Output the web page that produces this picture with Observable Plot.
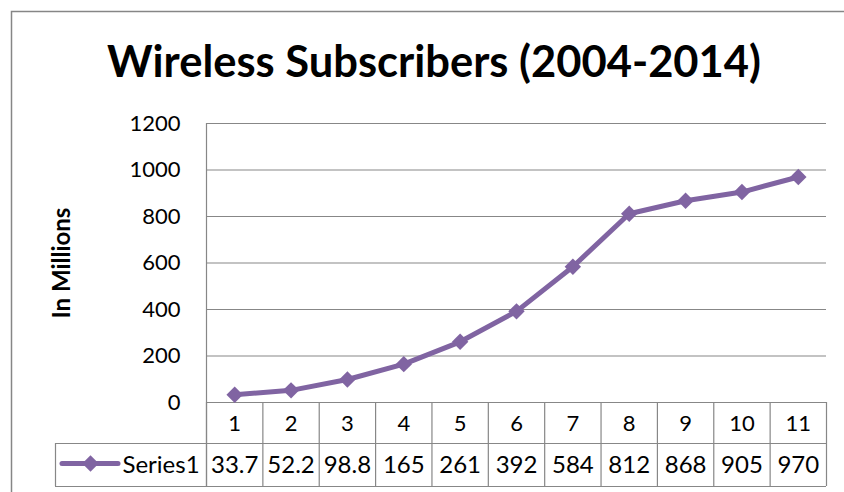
<!DOCTYPE html>
<html>
<head>
<meta charset="utf-8">
<script src="https://cdn.jsdelivr.net/npm/d3@7"></script>
<script src="https://cdn.jsdelivr.net/npm/@observablehq/plot@0.6"></script>
<style>
  html, body { margin: 0; padding: 0; background: #fff; }
</style>
</head>
<body>
<div id="chart"></div>
<script>
const title = "Wireless Subscribers (2004-2014)";
const yLabel = "In Millions";
const seriesName = "Series1";
const categories = [1, 2, 3, 4, 5, 6, 7, 8, 9, 10, 11];
const values = [33.7, 52.2, 98.8, 165, 261, 392, 584, 812, 868, 905, 970];
const valueLabels = ["33.7", "52.2", "98.8", "165", "261", "392", "584", "812", "868", "905", "970"];
const yTicks = [0, 200, 400, 600, 800, 1000, 1200];

const W = 844, H = 492;
const mL = 206, mR = 18, mT = 123, mB = 90;
const frameH = H - mT - mB;          // 279
const row1 = 41, row2 = 84;          // table row bottoms below the frame
const legendW = 151;
const purple = "#8064A2";
const grid = "#878787";

const data = categories.map((c, i) => ({cat: c, value: values[i], label: valueLabels[i]}));
const edges = categories.map(c => c - 0.5).concat([categories[categories.length - 1] + 0.5]);

const chart = Plot.plot({
  width: W,
  height: H,
  marginLeft: mL,
  marginRight: mR,
  marginTop: mT,
  marginBottom: mB,
  style: {fontFamily: "Lato, sans-serif", background: "#fff", color: "#000", overflow: "visible"},
  x: {type: "linear", domain: [edges[0], edges[edges.length - 1]], axis: null},
  y: {domain: [0, 1200], axis: null},
  marks: [
    // outer chart border
    Plot.frame({stroke: "#868686", strokeWidth: 1.5, insetLeft: -195, insetTop: -112, insetRight: -40, insetBottom: -130}),
    // horizontal gridlines
    Plot.ruleY(yTicks, {stroke: grid, strokeWidth: 1.2}),
    // left axis line (continues into table)
    Plot.ruleX([edges[0]], {stroke: grid, strokeWidth: 1.2, insetBottom: -row2}),
    // table column lines
    Plot.ruleX(edges, {stroke: grid, strokeWidth: 1.2, insetTop: frameH, insetBottom: -row2}),
    // legend cell left border
    Plot.ruleX([edges[0]], {stroke: grid, strokeWidth: 1.2, dx: -legendW, insetTop: frameH + row1, insetBottom: -row2}),
    // table horizontal lines
    Plot.ruleY([0], {stroke: grid, strokeWidth: 1.2, dy: row1, insetLeft: -legendW}),
    Plot.ruleY([0], {stroke: grid, strokeWidth: 1.2, dy: row2, insetLeft: -legendW}),
    // y tick labels
    Plot.text(yTicks, {x: edges[0], y: d => d, text: d => String(d), textAnchor: "end", lineAnchor: "middle", dx: -26, fontSize: 22}),
    // category labels (table row 1)
    Plot.text(data, {x: "cat", text: d => String(d.cat), frameAnchor: "bottom", lineAnchor: "middle", textAnchor: "middle", dy: 21.5, fontSize: 22}),
    // values (table row 2)
    Plot.text(data, {x: "cat", text: "label", frameAnchor: "bottom", lineAnchor: "middle", textAnchor: "middle", dy: 62.5, fontSize: 24}),
    // series line + markers
    Plot.line(data, {x: "cat", y: "value", stroke: purple, strokeWidth: 5, strokeLinejoin: "round"}),
    Plot.dot(data, {x: "cat", y: "value", symbol: "diamond2", fill: purple, stroke: null, r: 7.4}),
    // legend key
    Plot.ruleY([0], {stroke: purple, strokeWidth: 5, dy: 61, insetLeft: -144, insetRight: W - mR - 118, strokeLinecap: "round"}),
    Plot.dot([seriesName], {frameAnchor: "bottom-left", dx: -116, dy: 61, symbol: "diamond2", fill: purple, stroke: null, r: 7.4}),
    Plot.text([seriesName], {frameAnchor: "bottom-left", dx: -84, dy: 62.5, textAnchor: "start", lineAnchor: "middle", fontSize: 24}),
    // y label
    Plot.text([yLabel], {frameAnchor: "left", dx: -144, rotate: -90, textAnchor: "middle", lineAnchor: "middle", fontWeight: "bold", fontSize: 24}),
    // title
    Plot.text([title], {frameAnchor: "top-left", dx: 433.5 - mL, dy: -60, textAnchor: "middle", lineAnchor: "middle", fontWeight: "bold", fontSize: 43.5})
  ]
});
document.getElementById("chart").appendChild(chart);
</script>
</body>
</html>
